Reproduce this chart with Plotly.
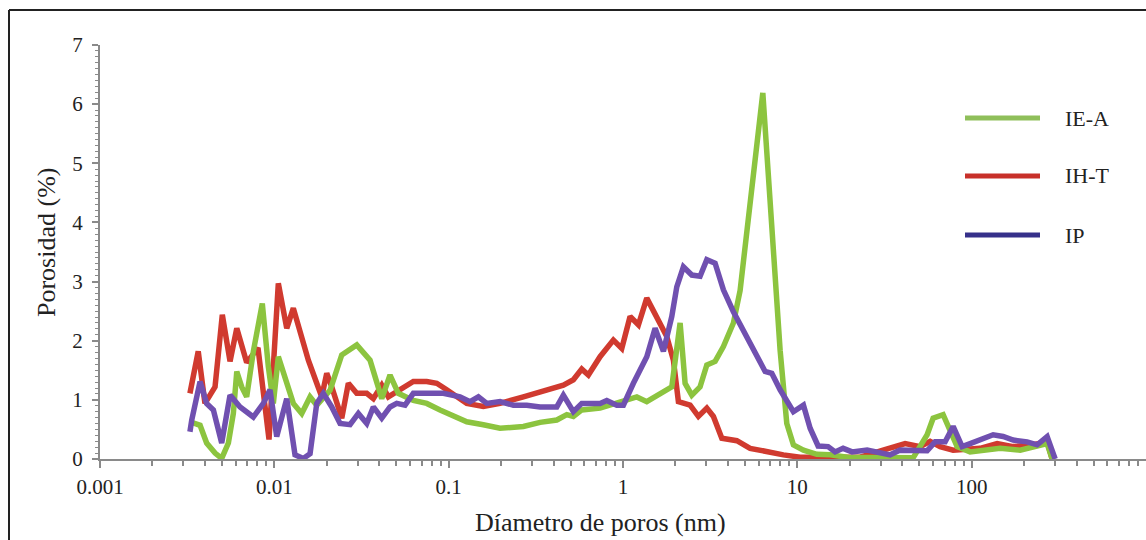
import plotly.graph_objects as go

# ---------------- data ----------------
ieA_d = [0.00328, 0.00375, 0.00409, 0.00457, 0.00499, 0.00545, 0.00582, 0.00609, 0.00650, 0.00694,
         0.00758, 0.00853, 0.00924, 0.00987, 0.01054, 0.01152, 0.01285, 0.01436, 0.01603, 0.01751,
         0.01910, 0.02087, 0.02436, 0.02970, 0.03540, 0.04132, 0.04610, 0.05145, 0.06272, 0.07486,
         0.08925, 0.1019, 0.1270, 0.1581, 0.1971, 0.2683, 0.3345, 0.4170, 0.4760, 0.5192,
         0.5800, 0.7387, 0.9211, 1.200, 1.369, 1.632, 1.905, 2.126, 2.271, 2.481,
         2.768, 3.025, 3.376, 3.766, 4.298, 4.696, 6.339, 7.966, 8.700, 9.495,
         10.84, 12.94, 15.42, 19.30, 29.85, 46.15, 55.53, 60.10, 68.61, 73.28,
         82.54, 98.0, 122.7, 145.7, 189.7, 237.5, 271.0, 289.5]
ieA_v = [0.63, 0.57, 0.27, 0.10, 0.01, 0.27, 0.77, 1.48, 1.22, 1.05,
         1.82, 2.63, 1.56, 0.94, 1.73, 1.39, 0.94, 0.77, 1.05, 0.91,
         1.05, 1.16, 1.76, 1.93, 1.67, 1.02, 1.42, 1.11, 0.99, 0.94,
         0.83, 0.75, 0.63, 0.58, 0.52, 0.55, 0.62, 0.66, 0.75, 0.72,
         0.83, 0.86, 0.94, 1.05, 0.97, 1.11, 1.22, 2.30, 1.28, 1.08,
         1.22, 1.59, 1.65, 1.90, 2.30, 2.85, 6.19, 1.84, 0.60, 0.24,
         0.15, 0.08, 0.07, 0.03, 0.02, 0.02, 0.41, 0.69, 0.75, 0.55,
         0.21, 0.12, 0.15, 0.18, 0.15, 0.21, 0.26, 0.0]

ihT_d = [0.00328, 0.00366, 0.00400, 0.00457, 0.00503, 0.00557, 0.00609, 0.00659, 0.00694, 0.00806,
         0.00932, 0.01054, 0.01178, 0.01285, 0.01404, 0.01567, 0.01751, 0.01870, 0.01998, 0.02135,
         0.02436, 0.02658, 0.02970, 0.03389, 0.03698, 0.04132, 0.04508, 0.05262, 0.06272, 0.07486,
         0.08545, 0.09750, 0.1270, 0.1581, 0.1971, 0.2683, 0.3493, 0.4550, 0.5192, 0.5800,
         0.6330, 0.7387, 0.8806, 0.9840, 1.098, 1.226, 1.369, 1.563, 1.783, 1.946,
         2.079, 2.426, 2.707, 3.025, 3.301, 3.688, 4.497, 5.358, 6.684, 8.322,
         10.37, 15.42, 22.92, 31.05, 41.53, 50.62, 57.77, 65.94, 78.29, 111.8,
         140.0, 173.0, 225.3, 271.0, 289.5]
ihT_v = [1.11, 1.82, 0.94, 1.22, 2.44, 1.65, 2.21, 1.84, 1.63, 1.88,
         0.33, 2.97, 2.21, 2.55, 2.13, 1.67, 1.28, 1.05, 1.45, 1.22,
         0.69, 1.28, 1.11, 1.11, 1.02, 1.25, 1.05, 1.16, 1.31, 1.31,
         1.28, 1.17, 0.94, 0.89, 0.94, 1.05, 1.14, 1.25, 1.34, 1.52,
         1.42, 1.73, 2.01, 1.87, 2.41, 2.27, 2.72, 2.41, 2.07, 1.67,
         0.97, 0.91, 0.72, 0.86, 0.72, 0.35, 0.31, 0.18, 0.12, 0.07,
         0.03, 0.02, 0.03, 0.15, 0.26, 0.21, 0.30, 0.21, 0.15, 0.18,
         0.26, 0.21, 0.24, 0.29, 0.0]

ip_d = [0.00328, 0.00336, 0.00375, 0.00409, 0.00447, 0.00499, 0.00557, 0.00636, 0.00758, 0.00865,
        0.00945, 0.01032, 0.01178, 0.01314, 0.01467, 0.01603, 0.01751, 0.01910, 0.02135, 0.02382,
        0.02719, 0.03034, 0.03389, 0.03698, 0.04132, 0.04610, 0.05037, 0.05621, 0.06272, 0.09322,
        0.1162, 0.1327, 0.1481, 0.1654, 0.1971, 0.2350, 0.2805, 0.3345, 0.4170, 0.4550,
        0.5192, 0.5800, 0.7387, 0.8071, 0.9211, 1.005, 1.147, 1.369, 1.528, 1.705,
        1.905, 2.035, 2.221, 2.481, 2.768, 3.025, 3.376, 3.766, 4.298, 5.129,
        5.855, 6.534, 7.137, 7.966, 9.495, 10.84, 11.84, 13.16, 15.01, 16.47,
        18.30, 20.62, 25.14, 29.85, 34.06, 38.88, 48.65, 55.53, 61.71, 70.44,
        78.29, 88.16, 98.0, 111.8, 132.8, 151.5, 173.0, 208.0, 237.5, 271.0,
        301.2]
ip_v = [0.46, 0.66, 1.31, 0.94, 0.83, 0.27, 1.08, 0.88, 0.71, 0.94,
        1.17, 0.38, 1.02, 0.07, 0.01, 0.09, 0.94, 1.11, 0.88, 0.60,
        0.58, 0.77, 0.60, 0.88, 0.69, 0.88, 0.94, 0.91, 1.11, 1.11,
        1.05, 0.97, 1.05, 0.94, 0.97, 0.91, 0.91, 0.88, 0.88, 1.08,
        0.80, 0.94, 0.94, 0.99, 0.91, 0.91, 1.28, 1.73, 2.21, 1.82,
        2.41, 2.91, 3.25, 3.11, 3.09, 3.37, 3.31, 2.86, 2.49, 2.07,
        1.73, 1.48, 1.45, 1.17, 0.80, 0.91, 0.52, 0.22, 0.21, 0.12,
        0.18, 0.12, 0.15, 0.10, 0.07, 0.15, 0.14, 0.14, 0.29, 0.29,
        0.55, 0.21, 0.26, 0.32, 0.41, 0.38, 0.32, 0.29, 0.24, 0.38,
        0.0]

series_names = ["IE-A", "IH-T", "IP"]
x_tick_vals = [0.001, 0.01, 0.1, 1, 10, 100]
x_tick_text = ["0.001", "0.01", "0.1", "1", "10", "100"]
y_tick_vals = [0, 1, 2, 3, 4, 5, 6, 7]

# ---------------- style ----------------
GREEN = "#8cc43f"
RED = "#d03a2f"
PURPLE = "#7050b0"
LEG_COLORS = ["#8fbf5a", "#c8302a", "#36308a"]
FONT = "Liberation Serif"
AXIS = "#8a8a8a"

W, H = 1146, 540
L, R, T, B = 100, 0, 45, 81
pw, ph = W - L - R, H - T - B

def px(xpix):
    return (xpix - L) / pw

def py(ypix):
    return (H - B - ypix) / ph

fig = go.Figure()
for d, v, col, name in [(ihT_d, ihT_v, RED, series_names[1]),
                        (ieA_d, ieA_v, GREEN, series_names[0]),
                        (ip_d, ip_v, PURPLE, series_names[2])]:
    fig.add_trace(go.Scatter(x=d, y=v, mode="lines", name=name,
                             line=dict(color=col, width=5.5), showlegend=False))

minor_x = [m * 10.0 ** e for e in range(-3, 3) for m in range(2, 10)]

fig.update_layout(
    width=W, height=H,
    margin=dict(l=L, r=R, t=T, b=B),
    paper_bgcolor="white", plot_bgcolor="white",
    font=dict(family=FONT, size=20, color="#222"),
    xaxis=dict(type="log", range=[-3, 3], showgrid=False, zeroline=False,
               showline=True, linecolor=AXIS, linewidth=2,
               tickmode="array", tickvals=x_tick_vals, ticktext=x_tick_text,
               ticks="outside", ticklen=7, tickwidth=1.5, tickcolor=AXIS,
               ticklabelstandoff=1,
               minor=dict(tickmode="array", tickvals=minor_x, ticks="outside",
                          ticklen=5, tickwidth=1.5, tickcolor=AXIS),
               tickfont=dict(family=FONT, size=21, color="#222")),
    yaxis=dict(range=[0, 7], showgrid=False, zeroline=False,
               showline=True, linecolor=AXIS, linewidth=2,
               tickvals=y_tick_vals, ticks="outside", ticklen=6,
               tickwidth=1.5, tickcolor=AXIS, ticklabelstandoff=5,
               minor=dict(dtick=0.1, ticks="outside", ticklen=3,
                          tickwidth=1.2, tickcolor=AXIS),
               tickfont=dict(family=FONT, size=21, color="#222")),
)

# axis titles
fig.add_annotation(text="Díametro de poros (nm)", xref="paper", yref="paper",
                   x=px(600), y=py(522), xanchor="center", yanchor="middle",
                   showarrow=False, font=dict(family=FONT, size=26, color="#222"))
fig.add_annotation(text="Porosidad (%)", xref="paper", yref="paper",
                   x=px(46), y=py(243), xanchor="center", yanchor="middle",
                   showarrow=False, textangle=-90,
                   font=dict(family=FONT, size=26, color="#222"))

# legend (drawn manually to match long line samples)
leg_y = [118, 176, 235]
for name, col, yy in zip(series_names, LEG_COLORS, leg_y):
    fig.add_shape(type="line", xref="paper", yref="paper",
                  x0=px(965), x1=px(1040), y0=py(yy), y1=py(yy),
                  line=dict(color=col, width=5))
    fig.add_annotation(text=name, xref="paper", yref="paper",
                       x=px(1063), y=py(yy), xanchor="left", yanchor="middle",
                       showarrow=False, font=dict(family=FONT, size=22, color="#222"))

# outer frame (top and left edges visible)
fig.add_shape(type="line", xref="paper", yref="paper",
              x0=px(9), x1=px(1150), y0=py(10), y1=py(10),
              line=dict(color="#222", width=2))
fig.add_shape(type="line", xref="paper", yref="paper",
              x0=px(9), x1=px(9), y0=py(10), y1=py(545),
              line=dict(color="#222", width=2))

fig.write_html("out.html", config={"displayModeBar": False},
               post_script="document.body.style.margin='0';document.body.style.overflow='hidden';")
